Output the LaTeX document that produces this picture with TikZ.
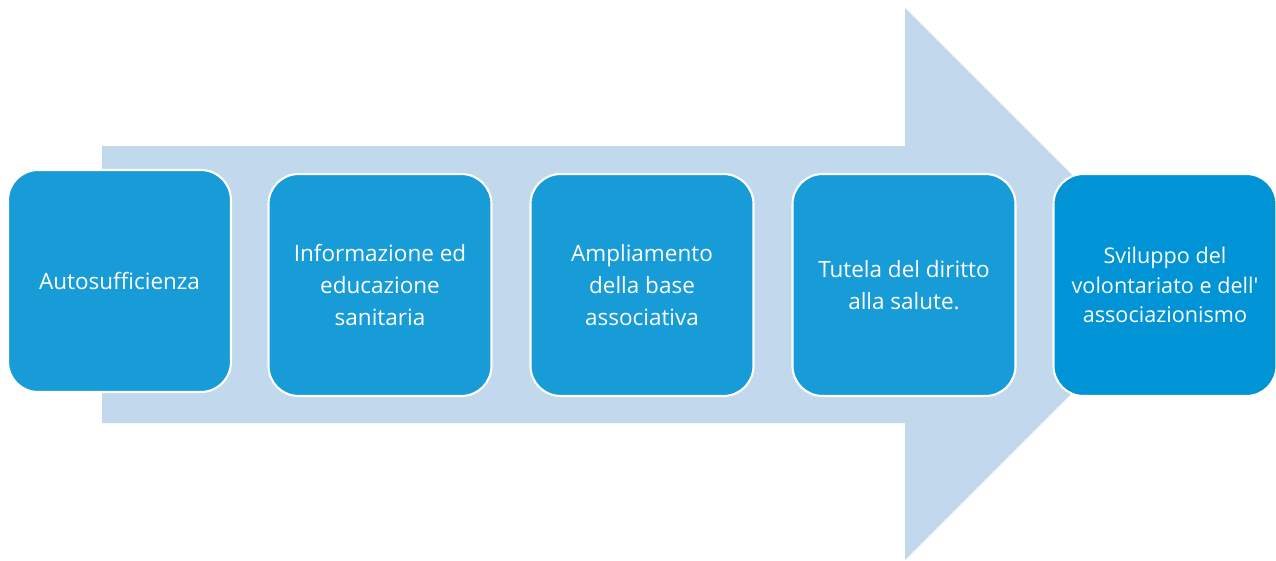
\documentclass[tikz,border=0pt]{standalone}
\usepackage{fontspec}
\setmainfont{Open Sans}[Ligatures=TeXOff]
\definecolor{flowarrow}{RGB}{194,216,236}
\definecolor{stageblue}{RGB}{23,156,216}
\definecolor{goalblue}{RGB}{0,148,214}
\usetikzlibrary{positioning}

\tikzset{
  stage/.style={draw=white,line width=1.2pt,fill=stageblue,text=white,
        rounded corners=0.6cm,minimum width=4.46cm,minimum height=4.44cm,
        align=center,font=\fontsize{12.8}{18.1}\selectfont,inner sep=0pt},
  goal/.style={stage,fill=goalblue,font=\fontsize{12.3}{16.9}\selectfont}
}

\begin{document}
\begin{tikzpicture}[x=0.02cm,y=-0.02cm]
  \useasboundingbox (0,0) rectangle (1276,561);
  % big background arrow
  \fill[flowarrow] (102,146) -- (905,146) -- (905,8) -- (1181,284)
        -- (905,560) -- (905,423) -- (102,423) -- cycle;
  % stages
  \node[stage] (s1) at (119.5,281) {Autosufficienza};
  \node[stage] (s2) at (380,285) {Informazione ed\\educazione\\sanitaria};
  \node[stage] (s3) at (642,285) {Ampliamento\\della base\\associativa};
  \node[stage] (s4) at (904,285) {Tutela del diritto\\alla salute.};
  \node[goal]  (s5) at (1165,285) {Sviluppo del\\volontariato e dell'\\associazionismo};
\end{tikzpicture}
\end{document}
